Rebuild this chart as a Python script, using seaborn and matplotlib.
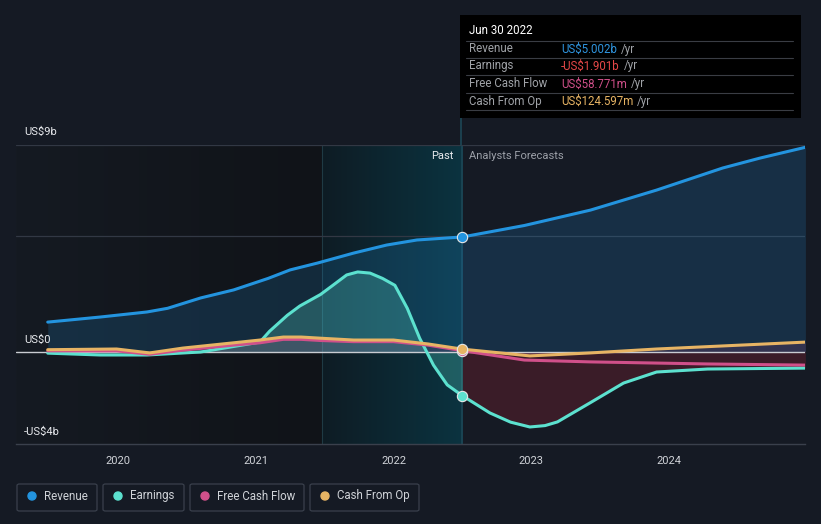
import numpy as np
import pandas as pd
import matplotlib
matplotlib.use("Agg")
import matplotlib.pyplot as plt
import seaborn as sns
from matplotlib.patches import Rectangle, FancyBboxPatch, Ellipse

# ---- data (US$ billions, x in fractional years) ----
rev_x = [2019.49, 2019.87, 2020.21, 2020.36, 2020.6, 2020.84, 2021.09, 2021.25, 2021.45, 2021.71,
         2021.95, 2022.17, 2022.5, 2022.95, 2023.43, 2023.91, 2024.39, 2024.66, 2024.99]
rev_y = [1.3, 1.52, 1.74, 1.9, 2.35, 2.7, 3.2, 3.57, 3.87, 4.3,
         4.65, 4.87, 5.002, 5.5, 6.17, 7.04, 8.0, 8.43, 8.9]

earn_x = [2019.49, 2019.87, 2020.21, 2020.6, 2021.03, 2021.1, 2021.23, 2021.32, 2021.47, 2021.56,
          2021.66, 2021.74, 2021.83, 2021.92, 2022.01, 2022.1, 2022.19, 2022.29, 2022.39, 2022.5,
          2022.7, 2022.85, 2022.99, 2023.1, 2023.19, 2023.43, 2023.67, 2023.91, 2024.28, 2024.99]
earn_y = [-0.05, -0.13, -0.13, 0.0, 0.43, 0.9, 1.6, 2.0, 2.5, 2.9,
          3.35, 3.48, 3.43, 3.2, 2.9, 1.9, 0.6, -0.57, -1.43, -1.901,
          -2.65, -3.05, -3.26, -3.2, -3.04, -2.2, -1.35, -0.87, -0.74, -0.7]

fcf_x = [2019.49, 2019.99, 2020.23, 2020.47, 2020.84, 2021.03, 2021.2, 2021.33, 2021.47, 2021.71,
         2022.0, 2022.25, 2022.5, 2022.95, 2023.43, 2024.28, 2024.99]
fcf_y = [0.05, 0.05, -0.1, 0.08, 0.3, 0.4, 0.55, 0.55, 0.5, 0.45,
         0.45, 0.3, 0.0588, -0.35, -0.43, -0.52, -0.57]

cfo_x = [2019.49, 2019.99, 2020.23, 2020.47, 2020.84, 2021.03, 2021.2, 2021.33, 2021.47, 2021.71,
         2022.0, 2022.25, 2022.5, 2022.99, 2023.43, 2023.91, 2024.99]
cfo_y = [0.1, 0.13, -0.04, 0.17, 0.4, 0.52, 0.65, 0.65, 0.6, 0.52,
         0.52, 0.35, 0.1246, -0.17, -0.04, 0.13, 0.43]

series_names = ["Revenue", "Earnings", "Free Cash Flow", "Cash From Op"]
series_colors = ["#2394df", "#5ce1cf", "#d0508a", "#e7b464"]
tooltip_values = ["US$5.002b", "-US$1.901b", "US$58.771m", "US$124.597m"]
tooltip_colors = ["#2f95e0", "#e64848", "#d0508a", "#e7b464"]
ytick_labels = ["US$9b", "US$0", "-US$4b"]
ytick_vals = [9, 0, -4]
xtick_vals = [2020, 2021, 2022, 2023, 2024]

now_x = 2022.5
hl_start = 2021.48

BG = "#151a24"

sns.set_style("dark", rc={"axes.facecolor": BG, "figure.facecolor": BG})
plt.rcParams["font.family"] = ["Roboto", "DejaVu Sans"]

W, H = 821, 524
fig = plt.figure(figsize=(W / 100, H / 100), dpi=100)
fig.patch.set_facecolor(BG)

ax_left, ax_right, ax_top, ax_bot = 16, 805, 145, 444
ax = fig.add_axes([ax_left / W, 1 - ax_bot / H, (ax_right - ax_left) / W, (ax_bot - ax_top) / H])
ax.set_facecolor(BG)
xmin = 2020 - (118 - ax_left) / 137.75
xmax = 2020 + (ax_right - 118) / 137.75
ax.set_xlim(xmin, xmax)
ax.set_ylim(-4, 9)

# past background regions
grad = np.linspace(0, 1, 200).reshape(1, -1)
ax.imshow(grad, extent=[xmin, hl_start, -4, 9], aspect="auto", zorder=0,
          cmap=matplotlib.colors.LinearSegmentedColormap.from_list("p", ["#151a22", "#101318"]))
ax.imshow(grad, extent=[hl_start, now_x, -4, 9], aspect="auto", zorder=0,
          cmap=matplotlib.colors.LinearSegmentedColormap.from_list("h", ["#0e1c24", "#0b3340"]))
ax.axvline(hl_start, color="#1f3a44", lw=0.8, zorder=1)
ax.axvline(now_x, color="#1d4756", lw=1.2, zorder=1)

# grid lines
for v in [9, 5.04]:
    ax.axhline(v, color="#323844", lw=0.9, zorder=1)
ax.axhline(0, color="#c9ccd2", lw=1.0, zorder=3)

# fills
ax.fill_between(rev_x, rev_y, 0, color="#2394df", alpha=0.18, lw=0, zorder=2)
ex = np.array(earn_x); ey = np.array(earn_y)
past = ex <= now_x
ax.fill_between(ex[past], ey[past], 0, color="#5ce1cf", alpha=0.25, lw=0, zorder=2)
fut = ex >= now_x
ax.fill_between(ex[fut], ey[fut], 0, color="#5a1f2c", alpha=0.55, lw=0, zorder=2)
ax.fill_between(cfo_x, cfo_y, 0, color="#d0508a", alpha=0.15, lw=0, zorder=2)

# lines
frames = [(rev_x, rev_y), (earn_x, earn_y), (fcf_x, fcf_y), (cfo_x, cfo_y)]
for (xs, ys), name, col in zip(frames, series_names, series_colors):
    df = pd.DataFrame({"x": xs, "y": ys})
    sns.lineplot(data=df, x="x", y="y", ax=ax, color=col, lw=2.2, zorder=4, legend=False)
    ax.lines[-1].set_solid_joinstyle("round")

# markers at now
for (xs, ys), col in zip(frames, series_colors):
    yv = ys[xs.index(now_x)]
    ax.scatter([now_x], [yv], s=55, color=col, edgecolor="#e8e8e8", linewidth=0.8, zorder=6)

# axes styling
for s in ["top", "right", "left"]:
    ax.spines[s].set_visible(False)
ax.spines["bottom"].set_color("#3a404c")
ax.spines["bottom"].set_linewidth(1.0)
ax.set_yticks([])
ax.set_xticks(xtick_vals)
ax.set_xticklabels([str(v) for v in xtick_vals], color="#d0d3d8", fontsize=8)
ax.tick_params(axis="x", length=3, color="#3a404c", pad=6)
ax.set_xlabel(""); ax.set_ylabel("")
ax.grid(False)

# y labels
for lab, v, yp in zip(ytick_labels, ytick_vals, [132, 340, 432]):
    fig.text(24 / W, 1 - yp / H, lab, color="#e8eaee", fontsize=8, va="center", ha="left")

# Past / Analysts Forecasts
fig.text(453 / W, 1 - 156 / H, "Past", color="#e8eaee", fontsize=8, ha="right", va="center")
fig.text(469 / W, 1 - 156 / H, "Analysts Forecasts", color="#9ca0a8", fontsize=8, ha="left", va="center")

# tooltip
fig.patches.append(Rectangle((460 / W, 1 - 118 / H), 341 / W, 103 / H, transform=fig.transFigure,
                             facecolor="#000000", edgecolor="none", zorder=5))
fig.add_artist(plt.Line2D([461 / W, 461 / W], [1 - 118 / H, 1 - 145 / H],
                          color="#1d4756", lw=1.2, transform=fig.transFigure))
fig.text(469 / W, 1 - 31 / H, "Jun 30 2022", color="#ffffff", fontsize=8.3, va="center", zorder=6)
rows_y = [49, 66, 84, 101]
for i, (name, val, col) in enumerate(zip(series_names, tooltip_values, tooltip_colors)):
    y = rows_y[i]
    fig.text(469 / W, 1 - y / H, name, color="#a0a3a8", fontsize=8.3, va="center", zorder=6)
    t = fig.text(561 / W, 1 - y / H, val, color=col, fontsize=8.3, va="center", zorder=6)
    fig.canvas.draw()
    bb = t.get_window_extent()
    fig.text((bb.x1 + 4) / W, 1 - y / H, "/yr", color="#a0a3a8", fontsize=8.3, va="center", zorder=6)
for y in [41, 58, 75, 93, 110]:
    fig.add_artist(plt.Line2D([466 / W, 793 / W], [1 - y / H, 1 - y / H], color="#3a3d44", lw=0.8,
                              transform=fig.transFigure, zorder=6))

# legend boxes
boxes = [(17, 80), (103, 81), (190, 114), (310, 109)]
for (bx, bw), name, col in zip(boxes, series_names, series_colors):
    fig.patches.append(FancyBboxPatch((bx / W, 1 - 511 / H), bw / W, 27 / H,
                                      boxstyle="round,pad=0,rounding_size=0.003",
                                      transform=fig.transFigure, facecolor="none",
                                      edgecolor="#3a404c", lw=0.9))
    fig.patches.append(Ellipse(((bx + 15) / W, 1 - 496 / H), 8 / W, 8 / H,
                               transform=fig.transFigure, color=col))
    fig.text((bx + 27) / W, 1 - 496 / H, name, color="#d0d3d8", fontsize=8.3, va="center")

fig.savefig("out.png", dpi=100, facecolor=BG)
